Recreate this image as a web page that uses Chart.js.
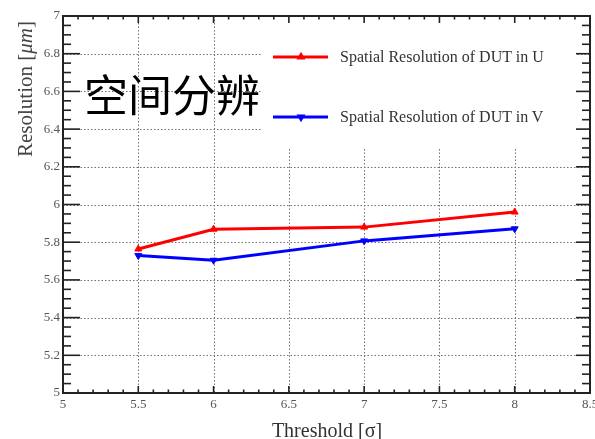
<!DOCTYPE html>
<html>
<head>
<meta charset="utf-8">
<script src="https://cdn.jsdelivr.net/npm/chart.js@4/dist/chart.umd.min.js"></script>
<style>
  html, body { margin: 0; padding: 0; background: #fff; }
  #wrap { position: relative; width: 595px; height: 439px; overflow: hidden; }
  canvas { position: absolute; left: 0; top: 0; }
  .t { position: absolute; white-space: nowrap; font-family: "Liberation Serif", "DejaVu Serif", serif; }
  #cn { left: 84px; top: 68px; font-family: "Noto Sans CJK SC", sans-serif; font-size: 44px; line-height: 50px; color: #000; }
  .leg { left: 340px; font-size: 16px; line-height: 18px; color: #333; }
  #xt { left: 0; width: 654px; text-align: center; top: 418px; font-size: 20px; line-height: 24px; color: #333; }
  #yt { left: 13px; top: 157px; font-size: 21px; line-height: 24px; color: #444; transform-origin: 0 0; transform: rotate(-90deg); }
</style>
</head>
<body>
<div id="wrap">
  <canvas id="c" width="595" height="439"></canvas>
  <div class="t" id="cn">空间分辨</div>
  <div class="t leg" id="legU" style="top:48px">Spatial Resolution of DUT in U</div>
  <div class="t leg" id="legV" style="top:108px">Spatial Resolution of DUT in V</div>
  <div class="t" id="xt">Threshold [σ]</div>
  <div class="t" id="yt">Resolution [<i>μm</i>]</div>
</div>
<script>
// ---- data ----
const thresholds = [5.5, 6, 7, 8];
const resU = [5.764, 5.869, 5.880, 5.960];
const resV = [5.729, 5.704, 5.807, 5.871];
const xTicks = [5, 5.5, 6, 6.5, 7, 7.5, 8, 8.5];
const yTicks = [5, 5.2, 5.4, 5.6, 5.8, 6, 6.2, 6.4, 6.6, 6.8, 7];
const seriesNames = ['Spatial Resolution of DUT in U', 'Spatial Resolution of DUT in V'];
const xMinor = 0.1, yMinor = 0.05;

const RED = '#ff0000', BLUE = '#0000ff';

function line(ctx, x1, y1, x2, y2) { ctx.beginPath(); ctx.moveTo(x1, y1); ctx.lineTo(x2, y2); ctx.stroke(); }

const rootFrame = {
  id: 'rootFrame',
  beforeDatasetsDraw(chart) {
    const { ctx, chartArea: a, scales: { x, y } } = chart;
    ctx.save();
    // dotted grid
    ctx.strokeStyle = '#707070';
    ctx.lineWidth = 1;
    ctx.setLineDash([1.5, 2]);
    xTicks.forEach(v => {
      if (v <= x.min || v >= x.max) return;
      const px = Math.round(x.getPixelForValue(v)) + 0.5;
      line(ctx, px, a.top, px, a.bottom);
    });
    yTicks.forEach(v => {
      if (v <= y.min || v >= y.max) return;
      const py = Math.round(y.getPixelForValue(v)) + 0.5;
      line(ctx, a.left, py, a.right, py);
    });
    ctx.setLineDash([]);
    // legend box (white, covers grid)
    const lx = a.left + (a.right - a.left) * 0.378;
    const ly = y.getPixelForValue(6.3);
    ctx.fillStyle = '#fff';
    ctx.fillRect(lx, a.top, a.right - 14 - lx, ly - a.top);
    // legend samples
    const samples = [[RED, 57, 0], [BLUE, 117, 180]];
    samples.forEach(([col, yy, rot]) => {
      ctx.strokeStyle = col; ctx.lineWidth = 3;
      line(ctx, 273, yy, 328, yy);
      ctx.fillStyle = col;
      Chart.helpers.drawPoint(ctx, { pointStyle: 'triangle', radius: 2.2, rotation: rot, borderWidth: 1 }, 301, yy);
    });
    ctx.restore();
  },
  afterDraw(chart) {
    const { ctx, chartArea: a, scales: { x, y } } = chart;
    ctx.save();
    ctx.strokeStyle = '#222';
    ctx.lineWidth = 1.6;
    // ticks
    const eps = 1e-6;
    for (let v = x.min; v <= x.max + eps; v += xMinor) {
      const major = xTicks.some(t => Math.abs(t - v) < 1e-4);
      const px = x.getPixelForValue(v);
      const len = major ? 7 : 3.5;
      line(ctx, px, a.bottom, px, a.bottom - len);
      line(ctx, px, a.top, px, a.top + len);
    }
    for (let v = y.min; v <= y.max + eps; v += yMinor) {
      const major = yTicks.some(t => Math.abs(t - v) < 1e-4);
      const py = y.getPixelForValue(v);
      line(ctx, a.left, py, a.left + (major ? 17 : 8), py);
      line(ctx, a.right, py, a.right - (major ? 14 : 8), py);
    }
    // frame
    ctx.lineWidth = 2;
    ctx.strokeRect(a.left, a.top, a.right - a.left, a.bottom - a.top);
    ctx.restore();
  }
};

new Chart(document.getElementById('c'), {
  type: 'line',
  data: {
    datasets: [
      {
        label: seriesNames[0],
        data: thresholds.map((t, i) => ({ x: t, y: resU[i] })),
        borderColor: RED, backgroundColor: RED,
        borderWidth: 3, pointStyle: 'triangle', pointRadius: 4, pointRotation: 0,
        pointBorderWidth: 1, tension: 0
      },
      {
        label: seriesNames[1],
        data: thresholds.map((t, i) => ({ x: t, y: resV[i] })),
        borderColor: BLUE, backgroundColor: BLUE,
        borderWidth: 3, pointStyle: 'triangle', pointRadius: 4, pointRotation: 180,
        pointBorderWidth: 1, tension: 0
      }
    ]
  },
  options: {
    responsive: false,
    animation: false,
    devicePixelRatio: 1,
    layout: { padding: { top: 16, right: 4, left: 0, bottom: 0 } },
    plugins: { legend: { display: false }, title: { display: false }, tooltip: { enabled: false } },
    scales: {
      x: {
        type: 'linear', min: 5, max: 8.5,
        afterBuildTicks: s => { s.ticks = xTicks.map(v => ({ value: v })); },
        afterFit: s => { s.height = 46; s.paddingLeft = 0; s.paddingRight = 0; },
        grid: { display: false, drawTicks: false },
        border: { display: false },
        ticks: {
          padding: 4, maxRotation: 0, autoSkip: false,
          color: '#555', font: { family: 'Liberation Serif', size: 13 },
          callback: v => String(v)
        }
      },
      y: {
        type: 'linear', min: 5, max: 7,
        afterBuildTicks: s => { s.ticks = yTicks.map(v => ({ value: v })); },
        afterFit: s => { s.width = 63; s.paddingTop = 0; s.paddingBottom = 0; },
        grid: { display: false, drawTicks: false },
        border: { display: false },
        ticks: {
          padding: 3, autoSkip: false,
          color: '#555', font: { family: 'Liberation Serif', size: 13 },
          callback: v => String(Math.round(v * 10) / 10)
        }
      }
    }
  },
  plugins: [rootFrame]
});
</script>
</body>
</html>
